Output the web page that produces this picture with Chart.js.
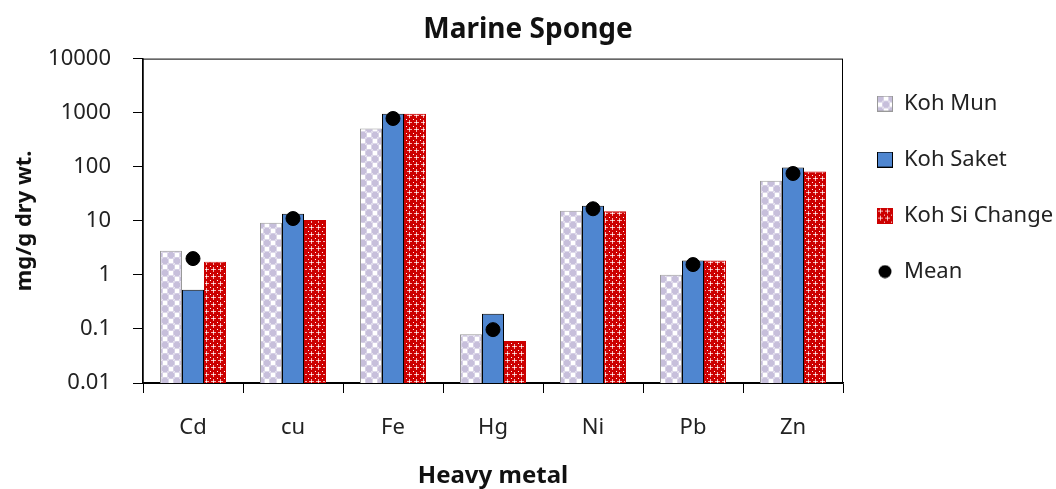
<!DOCTYPE html>
<html>
<head>
<meta charset="utf-8">
<script src="https://cdn.jsdelivr.net/npm/chart.js@4/dist/chart.umd.min.js"></script>
<style>
  html, body { margin: 0; padding: 0; background: #fff; }
  #wrap { width: 1056px; height: 489px; }
</style>
</head>
<body>
<div id="wrap"><canvas id="chart"></canvas></div>
<script>
// Données (échelle log)
const metals = ["Cd", "cu", "Fe", "Hg", "Ni", "Pb", "Zn"];
const kohMun = [2.8, 9.2, 510, 0.08, 15.3, 1.0, 55];
const kohSaket = [0.53, 13.5, 950, 0.19, 19, 1.85, 97];
const kohSiChange = [1.75, 10.4, 950, 0.06, 15, 1.85, 82];
const meanValues = [2.0, 11, 780, 0.097, 16.7, 1.55, 75];
const yTicks = [0.01, 0.1, 1, 10, 100, 1000, 10000];

const FONT = "'Noto Sans', sans-serif";
Chart.defaults.font.family = FONT;
Chart.defaults.color = "#222";

// Motifs de remplissage
const makeTile = (w, h, draw) => {
  const c = document.createElement("canvas");
  c.width = w; c.height = h;
  draw(c.getContext("2d"));
  return c;
};

const munTile = makeTile(12, 12, (g) => {
  g.fillStyle = "#ffffff";
  g.fillRect(0, 0, 12, 12);
  g.fillStyle = "#ded9ea";
  g.fillRect(6, 0, 6, 6);
  g.fillRect(0, 6, 6, 6);
  g.fillStyle = "#c7bfdb";
  [[3, 3], [9, 9]].forEach(([x, y]) => {
    g.beginPath(); g.arc(x, y, 3.4, 0, Math.PI * 2); g.fill();
  });
  g.fillStyle = "#ffffff";
  g.fillRect(7, 1, 4, 4);
  g.fillRect(1, 7, 4, 4);
});

const redTile = makeTile(7, 7, (g) => {
  g.fillStyle = "#cc0000";
  g.fillRect(0, 0, 7, 7);
  g.fillStyle = "#f2b3b3";
  g.fillRect(3, 1, 1, 5);
  g.fillRect(1, 3, 5, 1);
  g.fillStyle = "#ffffff";
  g.fillRect(0, 0, 1, 1);
  g.fillRect(3, 3, 1, 1);
});

const ctx = document.getElementById("chart").getContext("2d");
const munPattern = ctx.createPattern(munTile, "repeat");
const redPattern = ctx.createPattern(redTile, "repeat");

// Pastilles de la légende
const swatch = (fill, stroke) => makeTile(16, 16, (g) => {
  g.fillStyle = fill === "mun" ? g.createPattern(munTile, "repeat") : fill === "red" ? g.createPattern(redTile, "repeat") : fill;
  g.fillRect(0, 0, 16, 16);
  g.strokeStyle = stroke;
  g.lineWidth = 1;
  g.strokeRect(0.5, 0.5, 15, 15);
});
const meanSwatch = makeTile(14, 14, (g) => {
  g.fillStyle = "#000";
  g.beginPath(); g.arc(7, 7, 6.5, 0, Math.PI * 2); g.fill();
});
const legendSwatches = [swatch("mun", "#999"), swatch("#4f86d0", "#000"), swatch("red", "#cc0000"), meanSwatch];

// Cadre autour de la zone du graphique
const frame = {
  id: "frame",
  beforeDatasetsDraw(chart) {
    const a = chart.chartArea;
    const g = chart.ctx;
    g.save();
    g.strokeStyle = "#000";
    g.lineWidth = 1;
    g.strokeRect(a.left, a.top + 0.5, a.right - a.left - 0.5, a.bottom - a.top);
    g.restore();
  },
};

new Chart(ctx, {
  type: "bar",
  data: {
    labels: metals,
    datasets: [
      { label: "Koh Mun", data: kohMun, backgroundColor: munPattern, borderColor: "#999", borderWidth: 1, order: 1 },
      { label: "Koh Saket", data: kohSaket, backgroundColor: "#4f86d0", borderColor: "#000", borderWidth: 1, order: 1 },
      { label: "Koh Si Change", data: kohSiChange, backgroundColor: redPattern, borderColor: "#cc0000", borderWidth: 1, order: 1 },
      { type: "line", label: "Mean", data: meanValues, showLine: false, pointRadius: 7, pointHoverRadius: 7,
        backgroundColor: "#000", borderColor: "#000", order: 0 },
    ],
  },
  options: {
    responsive: true,
    maintainAspectRatio: false,
    animation: false,
    datasets: { bar: { categoryPercentage: 0.66, barPercentage: 1 } },
    layout: { padding: 0 },
    plugins: {
      tooltip: { enabled: false },
      title: {
        display: true,
        text: "Marine Sponge",
        font: { size: 28, weight: "bold" },
        color: "#111",
        padding: { top: 13, bottom: 12 },
      },
      legend: {
        position: "right",
        align: "start",
        fullSize: false,
        maxWidth: 213,
        labels: {
          usePointStyle: true,
          boxWidth: 16,
          boxHeight: 16,
          padding: 34,
          font: { size: 22 },
          color: "#222",
          sort: (a, b) => a.datasetIndex - b.datasetIndex,
          generateLabels: (chart) => {
            const items = Chart.defaults.plugins.legend.labels.generateLabels(chart);
            items.forEach((it) => { it.pointStyle = legendSwatches[it.datasetIndex]; });
            return items;
          },
        },
      },
    },
    scales: {
      x: {
        offset: true,
        afterFit: (scale) => { scale.height = 106; },
        grid: { display: true, offset: true, drawOnChartArea: false, drawTicks: true, tickLength: 10, color: "#000", lineWidth: 1 },
        border: { display: true, color: "#000", width: 1.5 },
        ticks: { font: { size: 22 }, padding: 22, color: "#222" },
        title: { display: true, text: "Heavy metal", font: { size: 24, weight: "bold" }, color: "#111", padding: { top: 0, bottom: -2 } },
      },
      y: {
        type: "logarithmic",
        min: 0.01,
        max: 10000,
        afterFit: (scale) => { scale.width = 143; },
        afterBuildTicks: (scale) => { scale.ticks = yTicks.map((v) => ({ value: v })); },
        grid: { display: true, drawOnChartArea: false, drawTicks: true, tickLength: 10, color: "#000", lineWidth: 1 },
        border: { display: true, color: "#000", width: 1.5 },
        ticks: { font: { size: 22 }, padding: 22, color: "#222", callback: (v) => String(v) },
        title: { display: true, text: "mg/g dry wt.", font: { size: 22, weight: "bold" }, color: "#111", padding: { top: 12, bottom: 0 } },
      },
    },
  },
  plugins: [frame],
});
</script>
</body>
</html>
